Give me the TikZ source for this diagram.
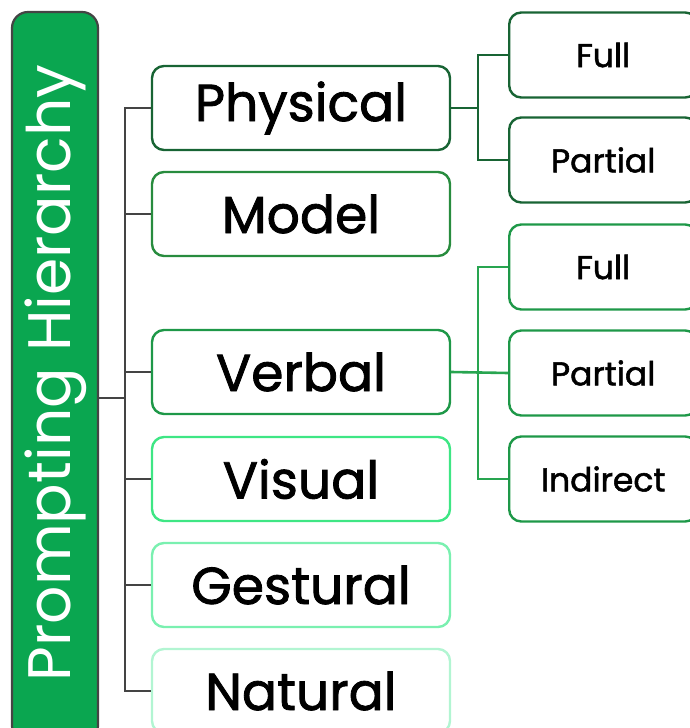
\documentclass[tikz,border=0pt]{standalone}
\usepackage{fontspec}
\setmainfont{Poppins}[FakeBold=1.6]
\newfontfamily\rootfont{Poppins}
\definecolor{rootfill}{RGB}{10,166,80}
\definecolor{rootline}{RGB}{68,68,68}
\definecolor{trunk}{RGB}{68,68,68}
\definecolor{cPhys}{RGB}{24,100,52}
\definecolor{cModel}{RGB}{40,140,62}
\definecolor{cVerb}{RGB}{30,152,72}
\definecolor{cVis}{RGB}{62,230,132}
\definecolor{cGest}{RGB}{122,240,176}
\definecolor{cNat}{RGB}{178,245,210}
\definecolor{cVerbLine}{RGB}{40,165,80}
\tikzset{
  lvlone/.style={draw, line width=2.4pt, rounded corners=12pt, minimum width=298pt, minimum height=84pt, inner sep=0pt, font=\fontsize{52}{56}\selectfont, text=black},
  lvltwo/.style={draw, line width=2.4pt, rounded corners=12pt, minimum width=188pt, minimum height=85pt, inner sep=0pt, anchor=west, font=\fontsize{33}{36}\selectfont, text=black},
  conn/.style={line width=2.6pt, trunk},
}
\begin{document}
\begin{tikzpicture}[x=1pt,y=-1pt]
\useasboundingbox (0,0) rectangle (690,728);
\begin{scope}
\clip (0,0) rectangle (690,728);
% root
\node[draw=rootline, fill=rootfill, line width=2.2pt, rounded corners=16pt, minimum width=86pt, minimum height=730pt, inner sep=0pt] (root) at (55,377) {};
\node[rotate=90, text=white, font=\rootfont\fontsize{60}{62}\selectfont] (roottext) at (56,373) {Prompting Hierarchy};
% level one
\node[lvlone, draw=cPhys] (phys) at (301,108) {Physical};
\node[lvlone, draw=cModel] (model) at (301,214) {Model};
\node[lvlone, draw=cVerb] (verb) at (301,372) {Verbal};
\node[lvlone, draw=cVis] (vis) at (301,479) {Visual};
\node[lvlone, draw=cGest] (gest) at (301,585) {Gestural};
\node[lvlone, draw=cNat] (nat) at (301,691) {Natural};
% level two
\node[lvltwo, draw=cPhys] (pfull) at (508,55) {Full};
\node[lvltwo, draw=cPhys] (ppart) at (508,160) {Partial};
\node[lvltwo, draw=cVerb] (vfull) at (508,267) {Full};
\node[lvltwo, draw=cVerb] (vpart) at (508,373) {Partial};
\node[lvltwo, draw=cVerb] (vind) at (508,479) {Indirect};
% trunk connectors
\coordinate (tx) at (125,0);
\draw[conn] (root.east |- 0,398) -- (tx |- 0,398);
\draw[conn] (phys.west) -| (tx |- nat.west) -- (nat.west);
\foreach \n in {model,verb,vis,gest} \draw[conn] (tx |- \n.west) -- (\n.west);
% physical children
\coordinate (px) at (478,0);
\draw[line width=2.6pt, cPhys] (phys.east) -- (px |- phys.east);
\draw[line width=2.6pt, cPhys] (pfull.west) -| (px |- ppart.west) -- (ppart.west);
% verbal children
\draw[line width=2.6pt, cVerbLine] (verb.east) -- (vpart.west);
\draw[line width=2.6pt, cVerbLine] (vfull.west) -| (px |- vind.west) -- (vind.west);
\end{scope}
\end{tikzpicture}
\end{document}
